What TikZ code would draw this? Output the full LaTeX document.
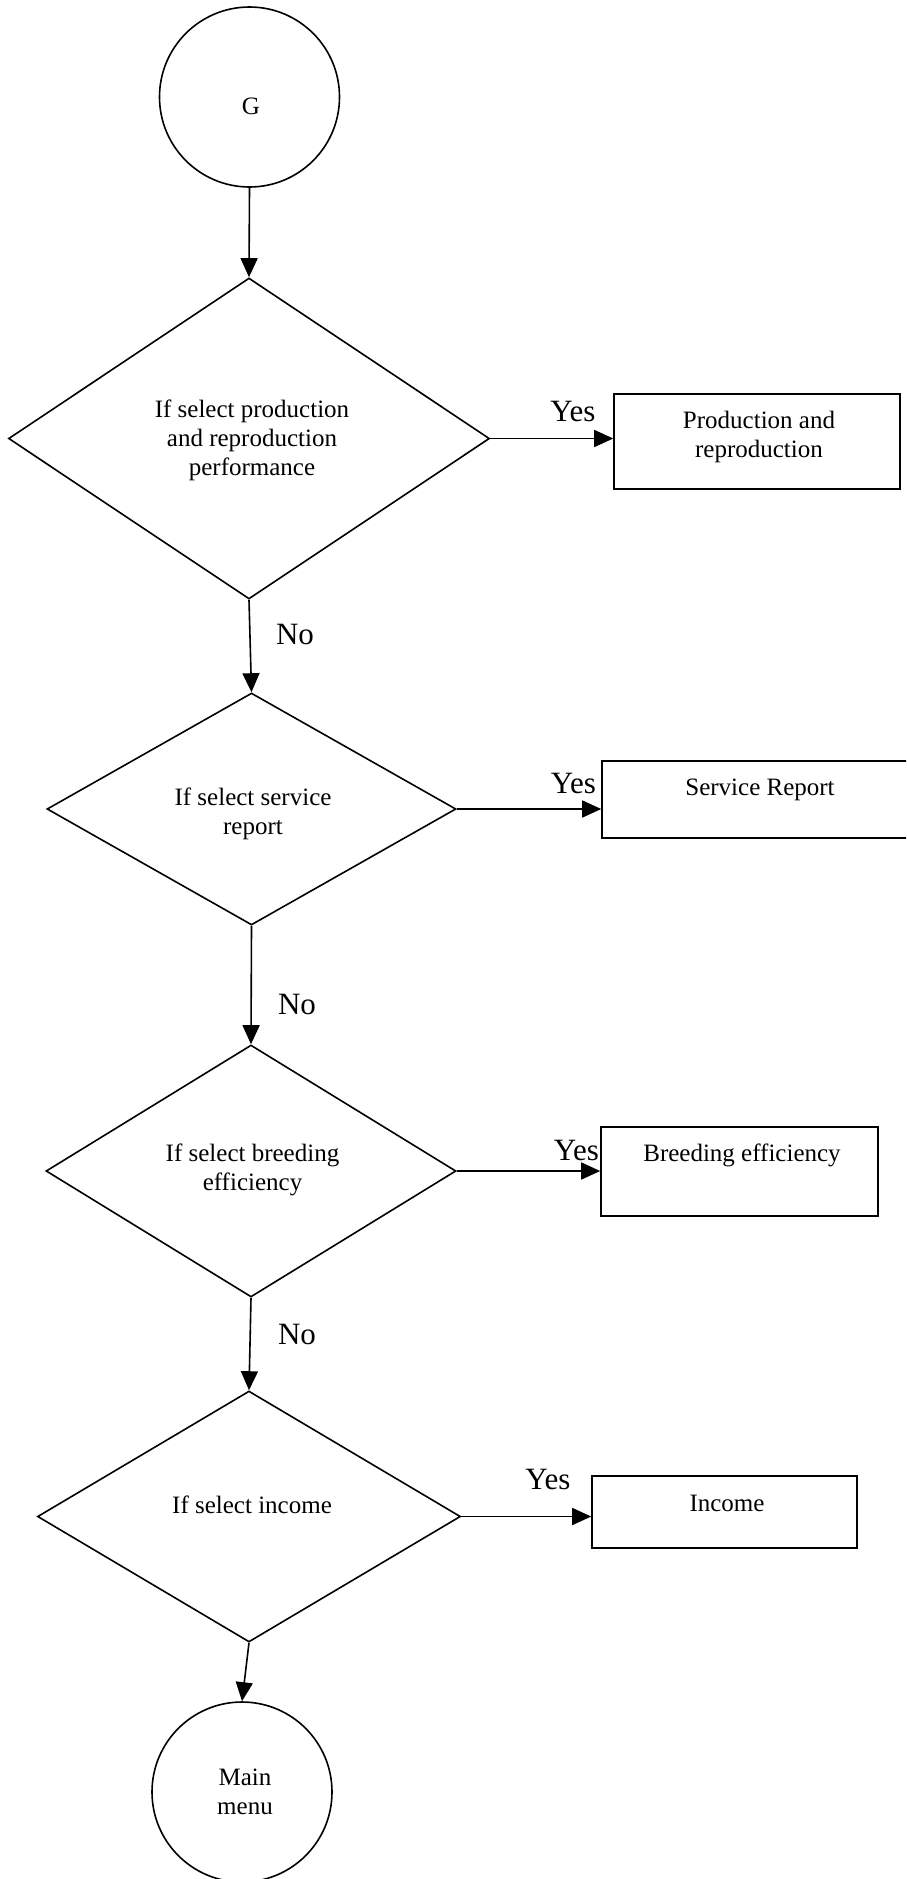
\documentclass[tikz,border=0pt]{standalone}
\usepackage{fontspec}
\setmainfont{Liberation Serif}
\usetikzlibrary{shapes.geometric,arrows.meta}
\begin{document}
\begin{tikzpicture}[x=1pt,y=-1pt,
  every node/.style={inner sep=0pt},
  flow/.style={line width=1.6pt},
  arr/.style={flow,-{Triangle[length=19pt,width=17pt]}},
  term/.style={draw,flow,circle,minimum size=180pt},
  dec/.style={draw,flow,diamond},
  outbox/.style={draw,flow,rectangle},
  txt/.style={font=\fontsize{25}{29}\selectfont,align=center},
  lbl/.style={font=\fontsize{31}{35}\selectfont,anchor=base}]
\clip (0,0) rectangle (906,1879);
\useasboundingbox (0,0) rectangle (906,1879);

% start terminal
\node[term] (g) at (249.5,97) {};
\node[txt] (gt) at (251,106) {G};

% decision 1
\node[dec,minimum width=481pt,minimum height=321pt] (d1) at (249,438.5) {};
\node[txt] (d1t) at (252,440) {If select production\\and reproduction\\performance};
\node[outbox,minimum width=286pt,minimum height=95pt] (b1) at (757,441.5) {};
\node[txt] (b1t) at (759,436.5) {Production and\\reproduction};

% decision 2
\node[dec,minimum width=409pt,minimum height=232pt] (d2) at (251.5,809) {};
\node[txt] (d2t) at (253,814) {If select service\\report};
\node[outbox,minimum width=318pt,minimum height=77pt] (b2) at (761,799.5) {};
\node[txt] (b2t) at (760,790) {Service Report};

% decision 3
\node[dec,minimum width=410pt,minimum height=252pt] (d3) at (251,1171) {};
\node[txt] (d3t) at (252.5,1170) {If select breeding\\efficiency};
\node[outbox,minimum width=277pt,minimum height=89pt] (b3) at (739.5,1171.5) {};
\node[txt] (b3t) at (742,1155) {Breeding efficiency};

% decision 4
\node[dec,minimum width=423pt,minimum height=251pt] (d4) at (249,1516.5) {};
\node[txt] (d4t) at (252,1505) {If select income};
\node[outbox,minimum width=265pt,minimum height=72pt] (b4) at (724.5,1512) {};
\node[txt] (b4t) at (727,1503) {Income};

% end terminal
\node[term] (mm) at (242,1792) {};
\node[txt] (mmt) at (245,1792) {Main\\menu};

% main line
\draw[arr] (g.south) -- (d1.north);
\draw[arr] (d1.south) -- (d2.north);
\draw[arr] (d2.south) -- (d3.north);
\draw[arr] (d3.south) -- (d4.north);
\draw[arr] (d4.south) -- (mm.north);

% yes branches
\draw[arr] (d1.east) -- (d1.east -| b1.west);
\draw[arr] (d2.east) -- (d2.east -| b2.west);
\draw[arr] (d3.east) -- (d3.east -| b3.west);
\draw[arr] (d4.east) -- (d4.east -| b4.west);

% branch labels
\node[lbl] (y1) at (573,421) {Yes};
\node[lbl] (y2) at (573.5,793) {Yes};
\node[lbl] (y3) at (576.5,1160) {Yes};
\node[lbl] (y4) at (548,1489.5) {Yes};
\node[lbl] (n1) at (295,644.5) {No};
\node[lbl] (n2) at (297,1014) {No};
\node[lbl] (n3) at (297,1344) {No};
\end{tikzpicture}
\end{document}
